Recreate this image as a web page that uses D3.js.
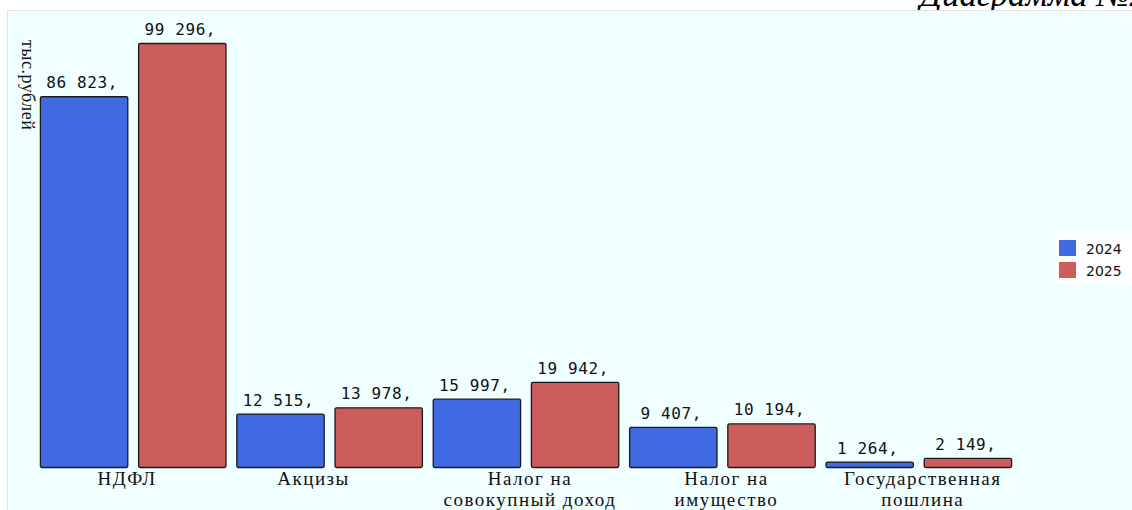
<!DOCTYPE html>
<html>
<head>
<meta charset="utf-8">
<script src="https://cdn.jsdelivr.net/npm/d3@7"></script>
<style>
  body { margin: 0; background: #fff; }
  svg { display: block; }
</style>
</head>
<body>
<svg width="1132" height="510"></svg>
<script>
// data
var categories = [["НДФЛ"], ["Акцизы"], ["Налог на", "совокупный доход"], ["Налог на", "имущество"], ["Государственная", "пошлина"]];
var years = ["2024", "2025"];
var values2024 = [86823, 12515, 15997, 9407, 1264];
var values2025 = [99296, 13978, 19942, 10194, 2149];
var colors = ["#4169E1", "#CD5C5C"];

var svg = d3.select("svg"),
	width = +svg.attr("width"),
	height = +svg.attr("height");

// title, cut off at the top (panel is drawn over its descenders)
svg.append("text")
	.attr("x", 1147).attr("y", 6)
	.attr("text-anchor", "end")
	.attr("font-family", "Liberation Serif, serif")
	.attr("font-style", "italic")
	.attr("font-size", 35)
	.text("Диаграмма №2");

// panel
svg.append("rect")
	.attr("x", 7.5).attr("y", 10.5)
	.attr("width", width).attr("height", height)
	.attr("fill", "#F0FFFF")
	.attr("stroke", "#e2e2e2");

var x0 = d3.scaleBand()
	.domain(d3.range(categories.length))
	.range([35, 1017]);

var x1 = d3.scaleBand()
	.domain(years)
	.range([0, x0.bandwidth()])
	.paddingInner(0.1)
	.paddingOuter(0.05);

var y = d3.scaleLinear()
	.domain([0, 99296])
	.range([467, 43]);

var rows = categories.map(function (c, i) {
	return { i: i, name: c, vals: [values2024[i], values2025[i]] };
});

var group = svg.append("g").selectAll("g")
	.data(rows)
	.enter().append("g")
	.attr("transform", function (d) { return "translate(" + x0(d.i) + ",0)"; });

var bars = group.selectAll("g")
	.data(function (d) { return d.vals.map(function (v, k) { return { year: years[k], v: v, k: k }; }); })
	.enter().append("g");

bars.append("rect")
	.attr("x", function (d) { return x1(d.year) + 0.5; })
	.attr("y", function (d) { return y(d.v) + 0.5; })
	.attr("width", x1.bandwidth() - 1)
	.attr("height", function (d) { return y(0) - y(d.v); })
	.attr("rx", 1.5)
	.attr("fill", function (d) { return colors[d.k]; })
	.attr("stroke", "#1a1a1a")
	.attr("stroke-width", 1.3);

bars.append("text")
	.attr("x", function (d) { return x1(d.year) + x1.bandwidth() / 2 - 2; })
	.attr("y", function (d) { return y(d.v) - 8; })
	.attr("text-anchor", "middle")
	.attr("font-family", "DejaVu Sans Mono, monospace")
	.attr("font-size", 16)
	.attr("letter-spacing", 0.6)
	.attr("fill", "#111")
	.text(function (d) { return d3.format(",")(d.v).replace(/,/g, " ") + ","; });

// category labels (first two sit a bit left in the original)
var labShift = [-6, -16, 4, 4, 4];
var lab = group.append("text")
	.attr("text-anchor", "middle")
	.attr("font-family", "Liberation Serif, serif")
	.attr("font-size", 19)
	.attr("letter-spacing", 1.5)
	.attr("fill", "#111");

lab.selectAll("tspan")
	.data(function (d) { return d.name.map(function (s) { return { s: s, i: d.i }; }); })
	.enter().append("tspan")
	.attr("x", function (d) { return x0.bandwidth() / 2 + labShift[d.i]; })
	.attr("y", function (d, i) { return 485 + i * 21; })
	.text(function (d) { return d.s; });

// y axis title
svg.append("text")
	.attr("transform", "translate(22,40) rotate(90)")
	.attr("font-family", "Liberation Serif, serif")
	.attr("font-size", 18)
	.attr("letter-spacing", 0.5)
	.attr("fill", "#111")
	.text("тыс.рублей");

// legend
var legend = svg.append("g").attr("transform", "translate(1055,233)");
legend.append("rect")
	.attr("width", 77).attr("height", 50)
	.attr("fill", "#fff");
var li = legend.selectAll("g.item")
	.data(years)
	.enter().append("g")
	.attr("class", "item")
	.attr("transform", function (d, i) { return "translate(4," + (7 + i * 22) + ")"; });
li.append("rect")
	.attr("width", 17).attr("height", 16)
	.attr("fill", function (d, i) { return colors[i]; });
li.append("text")
	.attr("x", 27).attr("y", 14)
	.attr("font-family", "DejaVu Sans, sans-serif")
	.attr("font-size", 14)
	.attr("fill", "#111")
	.text(function (d) { return d; });
</script>
</body>
</html>
